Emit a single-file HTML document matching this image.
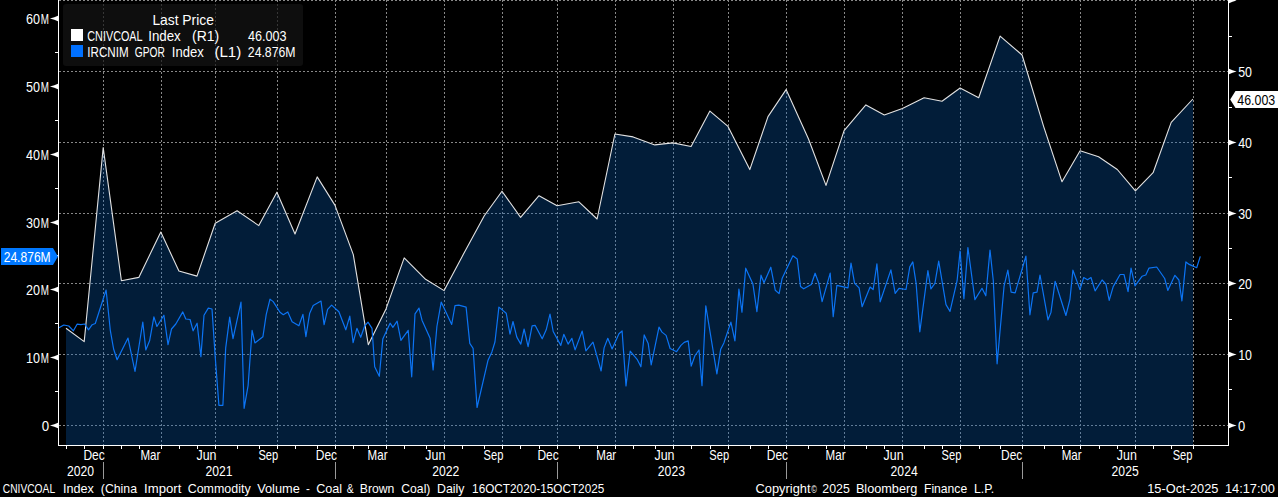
<!DOCTYPE html>
<html><head><meta charset="utf-8"><title>CNIVCOAL Index</title>
<style>html,body{margin:0;padding:0;background:#000;}body{width:1278px;height:497px;overflow:hidden;}svg{display:block;}text{font-family:"Liberation Sans",sans-serif;font-size:14.5px;fill:#fff;}</style>
</head><body>
<svg width="1278" height="497" viewBox="0 0 1278 497">
<rect x="0" y="0" width="1278" height="497" fill="#000"/>
<g stroke="#888888" stroke-width="1" stroke-dasharray="2 2" shape-rendering="crispEdges" fill="none">
<line x1="59.0" y1="0.5" x2="1228.5" y2="0.5"/>
<line x1="59.0" y1="71.5" x2="1228.5" y2="71.5"/>
<line x1="59.0" y1="142.5" x2="1228.5" y2="142.5"/>
<line x1="59.0" y1="213.5" x2="1228.5" y2="213.5"/>
<line x1="59.0" y1="283.5" x2="1228.5" y2="283.5"/>
<line x1="59.0" y1="354.5" x2="1228.5" y2="354.5"/>
<line x1="59.0" y1="425.5" x2="1228.5" y2="425.5"/>
<line x1="103.5" y1="0" x2="103.5" y2="445.5"/>
<line x1="161.5" y1="0" x2="161.5" y2="445.5"/>
<line x1="215.5" y1="0" x2="215.5" y2="445.5"/>
<line x1="277.5" y1="0" x2="277.5" y2="445.5"/>
<line x1="335.5" y1="0" x2="335.5" y2="445.5"/>
<line x1="386.5" y1="0" x2="386.5" y2="445.5"/>
<line x1="444.5" y1="0" x2="444.5" y2="445.5"/>
<line x1="502.5" y1="0" x2="502.5" y2="445.5"/>
<line x1="557.5" y1="0" x2="557.5" y2="445.5"/>
<line x1="615.5" y1="0" x2="615.5" y2="445.5"/>
<line x1="673.5" y1="0" x2="673.5" y2="445.5"/>
<line x1="728.5" y1="0" x2="728.5" y2="445.5"/>
<line x1="786.5" y1="0" x2="786.5" y2="445.5"/>
<line x1="844.5" y1="0" x2="844.5" y2="445.5"/>
<line x1="902.5" y1="0" x2="902.5" y2="445.5"/>
<line x1="960.5" y1="0" x2="960.5" y2="445.5"/>
<line x1="1022.5" y1="0" x2="1022.5" y2="445.5"/>
<line x1="1080.5" y1="0" x2="1080.5" y2="445.5"/>
<line x1="1135.5" y1="0" x2="1135.5" y2="445.5"/>
<line x1="1193.5" y1="0" x2="1193.5" y2="445.5"/>
</g>
<polygon points="66.0,445.5 66.0,328.2 84.2,341.6 103.2,147.6 121.4,280.7 138.8,277.4 160.8,232.1 178.9,271 197,276.1 215.2,223.3 237.1,210.8 258.8,225.6 276.9,192.2 295,234 317.2,176.9 334.9,205.1 353.3,254.6 368.3,344.7 386,308.9 404.2,257.9 425.6,279.3 444.1,290.6 462.2,256.4 484.3,215.8 502,191.2 520.6,217.4 539,195.7 557.1,205.7 578.9,201.8 597.1,219 614.9,134 633.1,136.9 654.8,144.9 672.8,142.9 691.1,146.5 709.9,111.1 728,126.4 749.8,169.6 768,116.6 786.1,89.6 808.4,138.7 826,185.4 844.1,130.7 865.9,104.9 884.3,115 902.4,108.5 924.1,97.7 942,101.3 960.1,88 978.7,97.7 1000.1,36.1 1022.1,55 1043.6,126.3 1062,181.8 1080.1,150.8 1098.6,156.7 1117.3,169.5 1135.4,190.8 1153.1,172.7 1171.2,122.4 1192.9,99 1193.0,99 1193.0,445.5" fill="rgba(8,95,190,0.3)"/>
<polyline points="66.0,328.2 84.2,341.6 103.2,147.6 121.4,280.7 138.8,277.4 160.8,232.1 178.9,271 197,276.1 215.2,223.3 237.1,210.8 258.8,225.6 276.9,192.2 295,234 317.2,176.9 334.9,205.1 353.3,254.6 368.3,344.7 386,308.9 404.2,257.9 425.6,279.3 444.1,290.6 462.2,256.4 484.3,215.8 502,191.2 520.6,217.4 539,195.7 557.1,205.7 578.9,201.8 597.1,219 614.9,134 633.1,136.9 654.8,144.9 672.8,142.9 691.1,146.5 709.9,111.1 728,126.4 749.8,169.6 768,116.6 786.1,89.6 808.4,138.7 826,185.4 844.1,130.7 865.9,104.9 884.3,115 902.4,108.5 924.1,97.7 942,101.3 960.1,88 978.7,97.7 1000.1,36.1 1022.1,55 1043.6,126.3 1062,181.8 1080.1,150.8 1098.6,156.7 1117.3,169.5 1135.4,190.8 1153.1,172.7 1171.2,122.4 1192.9,99" fill="none" stroke="#e2e2e2" stroke-width="1.1" stroke-linejoin="round"/>
<polyline points="59,327.8 63.8,325 68.8,326 73.4,330.8 77.1,324.2 80.9,324.7 84.7,324 88.5,329.8 92.2,324.7 95.3,323.5 106.1,290 110.3,330.3 113.6,349 117.1,359.7 128,338.1 135,371.5 142.8,322 145.8,349.9 149.6,340.8 153.9,316.9 156.9,326.5 163.9,315.2 168,344.6 171.5,329 175.8,324 182.8,311.9 185.8,319 190.1,319.5 193.1,330.8 197.1,323.2 200.9,356.7 204,315.2 208.3,308.1 212,309 215.1,355.4 218.9,405.3 222.9,405.3 225.7,347.9 229.7,317.2 233,338.6 241,302.1 244.1,408.3 248.1,385.6 252.1,330.3 254.9,342.9 262.9,336.8 266.2,314.7 270,299.1 273.2,301.6 280,312.2 283.3,314.7 287.8,311.9 292.1,321.7 298.9,325.8 302.9,314.4 305.9,336.6 309.7,313.2 313.2,305.6 321,301.1 324.1,324.7 327.6,309.4 331.6,305.1 338.9,311.7 345.8,329.8 349.8,316.2 353.1,342.6 356.9,328.3 360.7,337.3 364.7,326 368,322.2 372,328.3 374.7,366.8 379.3,376.3 382.8,339.1 390.1,323.2 392.9,327.3 397.1,321.2 400.9,340.3 408.2,330.3 411.7,376.8 415,313.9 419,308.1 422,320.2 430.1,338.3 433.1,370 436.9,326.5 441.2,302.1 451.7,324.5 455,305.6 458.8,305.1 466.1,307.1 469.8,343.4 473.1,348.4 477.05,407.5 488.05,360.2 491.9,351.9 494.95,342 498.9,307.1 506.2,313.2 510,334.1 513,321.5 516.8,337.1 520.8,344.1 524.1,329 528.1,346.6 532.1,325.8 535.1,325.3 542.2,338.8 546.2,329.8 550,314.2 553.2,331.5 560.8,345.4 563.8,334.3 568.1,344.1 571.9,338.3 575.1,349.9 582.2,331 585.9,350.9 593,342.1 601.1,371 604.1,347.9 607.8,338.3 612.1,348.9 618.95,333.8 622.1,331 626,385.9 630.15,351.2 637.1,359.3 640.9,366.8 644.2,334.9 648.2,343.4 651.2,364.8 659,327.1 662,332.1 666.1,335.4 670.1,348.5 676.6,351.7 680.9,345.4 684.2,342.4 688.2,340.9 691.2,366.1 695,355.5 699,350 702,385.7 705.8,305.9 716.9,373.9 720.7,349.2 723.9,342.9 730.9,322.1 734.9,340.9 738.9,289 741.95,312.1 745.7,268.2 752.9,284 756.9,311.7 761,275.2 764,282.8 770.8,267.2 775.3,290.3 779.1,293.6 782.1,278.5 792.9,255.8 797.2,258.9 800.5,286.5 803.7,288.8 811.3,284.5 815.1,273.2 818.8,283.3 822.1,301.6 830.2,273.2 833.2,316.7 836.9,285.3 848,287.8 851,263.1 854.6,283.3 859.1,287.8 862.1,306.7 870.1,287 873.15,289.5 876.9,263.9 880.15,301.8 890.9,269.9 895.2,293.3 899,288.3 906,289.5 909.8,266.9 912.8,261.9 916.1,283.3 919.8,331.8 927.9,270.7 930.9,288.8 934.9,283.3 938.7,261.1 946,304.6 950,311.4 957.1,280.7 960.1,251.1 963.9,298.8 967.9,247.5 974.9,299.6 982,288.3 985.8,295.8 990,250 993.3,280.7 997.1,363.8 1004.1,285.8 1007.85,270.2 1011.1,292.1 1015.15,292.85 1025.9,256.1 1029.9,314.8 1033.2,292.9 1037,292.1 1040,275 1048,319.8 1051,312.2 1055.1,281.3 1065.9,315.5 1069.9,299.7 1072.9,270.2 1080,289.6 1083.7,277.5 1087.5,279.8 1091,277.5 1095.1,290.9 1102.1,280 1105.9,284.1 1109.2,300.4 1113.2,286.6 1120.1,274.5 1124,274.5 1128.05,291.6 1131.05,268.2 1135,285.8 1142,276.3 1145.8,275 1148.9,268.2 1156.7,267 1164.7,278.5 1167.8,290.4 1174.9,275.3 1178.9,280 1181.9,300.9 1185.9,261.9 1189.2,264.4 1196.7,267.7 1200.3,256.4" fill="none" stroke="#0c74f4" stroke-width="1.2" stroke-linejoin="round"/>
<g stroke="#fff" stroke-width="1" shape-rendering="crispEdges">
<line x1="58.5" y1="0" x2="58.5" y2="446"/>
<line x1="1228.5" y1="0" x2="1228.5" y2="446"/>
<line x1="58" y1="445.5" x2="1229" y2="445.5"/>
<line x1="66.5" y1="446" x2="66.5" y2="449"/>
<line x1="84.5" y1="446" x2="84.5" y2="449"/>
<line x1="103.5" y1="446" x2="103.5" y2="449"/>
<line x1="121.5" y1="446" x2="121.5" y2="449"/>
<line x1="139.5" y1="446" x2="139.5" y2="449"/>
<line x1="161.5" y1="446" x2="161.5" y2="449"/>
<line x1="179.5" y1="446" x2="179.5" y2="449"/>
<line x1="197.5" y1="446" x2="197.5" y2="449"/>
<line x1="215.5" y1="446" x2="215.5" y2="449"/>
<line x1="237.5" y1="446" x2="237.5" y2="449"/>
<line x1="259.5" y1="446" x2="259.5" y2="449"/>
<line x1="277.5" y1="446" x2="277.5" y2="449"/>
<line x1="295.5" y1="446" x2="295.5" y2="449"/>
<line x1="317.5" y1="446" x2="317.5" y2="449"/>
<line x1="335.5" y1="446" x2="335.5" y2="449"/>
<line x1="353.5" y1="446" x2="353.5" y2="449"/>
<line x1="368.5" y1="446" x2="368.5" y2="449"/>
<line x1="386.5" y1="446" x2="386.5" y2="449"/>
<line x1="404.5" y1="446" x2="404.5" y2="449"/>
<line x1="426.5" y1="446" x2="426.5" y2="449"/>
<line x1="444.5" y1="446" x2="444.5" y2="449"/>
<line x1="462.5" y1="446" x2="462.5" y2="449"/>
<line x1="484.5" y1="446" x2="484.5" y2="449"/>
<line x1="502.5" y1="446" x2="502.5" y2="449"/>
<line x1="520.5" y1="446" x2="520.5" y2="449"/>
<line x1="539.5" y1="446" x2="539.5" y2="449"/>
<line x1="557.5" y1="446" x2="557.5" y2="449"/>
<line x1="579.5" y1="446" x2="579.5" y2="449"/>
<line x1="597.5" y1="446" x2="597.5" y2="449"/>
<line x1="615.5" y1="446" x2="615.5" y2="449"/>
<line x1="633.5" y1="446" x2="633.5" y2="449"/>
<line x1="655.5" y1="446" x2="655.5" y2="449"/>
<line x1="673.5" y1="446" x2="673.5" y2="449"/>
<line x1="691.5" y1="446" x2="691.5" y2="449"/>
<line x1="710.5" y1="446" x2="710.5" y2="449"/>
<line x1="728.5" y1="446" x2="728.5" y2="449"/>
<line x1="750.5" y1="446" x2="750.5" y2="449"/>
<line x1="768.5" y1="446" x2="768.5" y2="449"/>
<line x1="786.5" y1="446" x2="786.5" y2="449"/>
<line x1="808.5" y1="446" x2="808.5" y2="449"/>
<line x1="826.5" y1="446" x2="826.5" y2="449"/>
<line x1="844.5" y1="446" x2="844.5" y2="449"/>
<line x1="866.5" y1="446" x2="866.5" y2="449"/>
<line x1="884.5" y1="446" x2="884.5" y2="449"/>
<line x1="902.5" y1="446" x2="902.5" y2="449"/>
<line x1="924.5" y1="446" x2="924.5" y2="449"/>
<line x1="942.5" y1="446" x2="942.5" y2="449"/>
<line x1="960.5" y1="446" x2="960.5" y2="449"/>
<line x1="979.5" y1="446" x2="979.5" y2="449"/>
<line x1="1000.5" y1="446" x2="1000.5" y2="449"/>
<line x1="1022.5" y1="446" x2="1022.5" y2="449"/>
<line x1="1044.5" y1="446" x2="1044.5" y2="449"/>
<line x1="1062.5" y1="446" x2="1062.5" y2="449"/>
<line x1="1080.5" y1="446" x2="1080.5" y2="449"/>
<line x1="1099.5" y1="446" x2="1099.5" y2="449"/>
<line x1="1117.5" y1="446" x2="1117.5" y2="449"/>
<line x1="1135.5" y1="446" x2="1135.5" y2="449"/>
<line x1="1153.5" y1="446" x2="1153.5" y2="449"/>
<line x1="1171.5" y1="446" x2="1171.5" y2="449"/>
<line x1="1193.5" y1="446" x2="1193.5" y2="449"/>
<line x1="55" y1="52.5" x2="58" y2="52.5"/>
<line x1="55" y1="120.5" x2="58" y2="120.5"/>
<line x1="55" y1="188.5" x2="58" y2="188.5"/>
<line x1="55" y1="255.5" x2="58" y2="255.5"/>
<line x1="55" y1="323.5" x2="58" y2="323.5"/>
<line x1="55" y1="391.5" x2="58" y2="391.5"/>
<line x1="1229" y1="36.5" x2="1232" y2="36.5"/>
<line x1="1229" y1="107.5" x2="1232" y2="107.5"/>
<line x1="1229" y1="177.5" x2="1232" y2="177.5"/>
<line x1="1229" y1="248.5" x2="1232" y2="248.5"/>
<line x1="1229" y1="319.5" x2="1232" y2="319.5"/>
<line x1="1229" y1="389.5" x2="1232" y2="389.5"/>
</g>
<path d="M49.9,18.5 Q54.5,17.4 58.5,15.5 L58.5,21.5 Q54.5,19.6 49.9,18.5 Z" fill="#fff"/>
<text x="25.90" y="23.5" textLength="14.00" lengthAdjust="spacingAndGlyphs">60</text>
<text x="40.80" y="23.5" textLength="8.20" lengthAdjust="spacingAndGlyphs">M</text>
<path d="M49.9,86.5 Q54.5,85.4 58.5,83.5 L58.5,89.5 Q54.5,87.6 49.9,86.5 Z" fill="#fff"/>
<text x="25.90" y="91.5" textLength="14.00" lengthAdjust="spacingAndGlyphs">50</text>
<text x="40.80" y="91.5" textLength="8.20" lengthAdjust="spacingAndGlyphs">M</text>
<path d="M49.9,154.5 Q54.5,153.4 58.5,151.5 L58.5,157.5 Q54.5,155.6 49.9,154.5 Z" fill="#fff"/>
<text x="25.90" y="159.5" textLength="14.00" lengthAdjust="spacingAndGlyphs">40</text>
<text x="40.80" y="159.5" textLength="8.20" lengthAdjust="spacingAndGlyphs">M</text>
<path d="M49.9,222.5 Q54.5,221.4 58.5,219.5 L58.5,225.5 Q54.5,223.6 49.9,222.5 Z" fill="#fff"/>
<text x="25.90" y="227.5" textLength="14.00" lengthAdjust="spacingAndGlyphs">30</text>
<text x="40.80" y="227.5" textLength="8.20" lengthAdjust="spacingAndGlyphs">M</text>
<path d="M49.9,289.5 Q54.5,288.4 58.5,286.5 L58.5,292.5 Q54.5,290.6 49.9,289.5 Z" fill="#fff"/>
<text x="25.90" y="294.5" textLength="14.00" lengthAdjust="spacingAndGlyphs">20</text>
<text x="40.80" y="294.5" textLength="8.20" lengthAdjust="spacingAndGlyphs">M</text>
<path d="M49.9,357.5 Q54.5,356.4 58.5,354.5 L58.5,360.5 Q54.5,358.6 49.9,357.5 Z" fill="#fff"/>
<text x="25.90" y="362.5" textLength="14.00" lengthAdjust="spacingAndGlyphs">10</text>
<text x="40.80" y="362.5" textLength="8.20" lengthAdjust="spacingAndGlyphs">M</text>
<path d="M49.9,425.5 Q54.5,424.4 58.5,422.5 L58.5,428.5 Q54.5,426.6 49.9,425.5 Z" fill="#fff"/>
<text x="41.80" y="430.5" textLength="7.40" lengthAdjust="spacingAndGlyphs">0</text>
<path d="M1236.6,0.5 Q1232.5,-0.6000000000000001 1228.5,-2.5 L1228.5,3.5 Q1232.5,1.6 1236.6,0.5 Z" fill="#fff"/>
<path d="M1236.6,71.5 Q1232.5,70.4 1228.5,68.5 L1228.5,74.5 Q1232.5,72.6 1236.6,71.5 Z" fill="#fff"/>
<text x="1238.20" y="76.5" textLength="13.80" lengthAdjust="spacingAndGlyphs">50</text>
<path d="M1236.6,142.5 Q1232.5,141.4 1228.5,139.5 L1228.5,145.5 Q1232.5,143.6 1236.6,142.5 Z" fill="#fff"/>
<text x="1238.20" y="147.5" textLength="13.80" lengthAdjust="spacingAndGlyphs">40</text>
<path d="M1236.6,213.5 Q1232.5,212.4 1228.5,210.5 L1228.5,216.5 Q1232.5,214.6 1236.6,213.5 Z" fill="#fff"/>
<text x="1238.20" y="218.5" textLength="13.80" lengthAdjust="spacingAndGlyphs">30</text>
<path d="M1236.6,283.5 Q1232.5,282.4 1228.5,280.5 L1228.5,286.5 Q1232.5,284.6 1236.6,283.5 Z" fill="#fff"/>
<text x="1238.20" y="288.5" textLength="13.80" lengthAdjust="spacingAndGlyphs">20</text>
<path d="M1236.6,354.5 Q1232.5,353.4 1228.5,351.5 L1228.5,357.5 Q1232.5,355.6 1236.6,354.5 Z" fill="#fff"/>
<text x="1238.20" y="359.5" textLength="13.80" lengthAdjust="spacingAndGlyphs">10</text>
<path d="M1236.6,425.5 Q1232.5,424.4 1228.5,422.5 L1228.5,428.5 Q1232.5,426.6 1236.6,425.5 Z" fill="#fff"/>
<text x="1237.90" y="430.5" textLength="7.20" lengthAdjust="spacingAndGlyphs">0</text>
<text x="83.40" y="459.5" textLength="21.30" lengthAdjust="spacingAndGlyphs">Dec</text>
<text x="140.45" y="459.5" textLength="19.90" lengthAdjust="spacingAndGlyphs">Mar</text>
<text x="196.50" y="459.5" textLength="20.00" lengthAdjust="spacingAndGlyphs">Jun</text>
<text x="258.40" y="459.5" textLength="19.80" lengthAdjust="spacingAndGlyphs">Sep</text>
<text x="315.75" y="459.5" textLength="21.30" lengthAdjust="spacingAndGlyphs">Dec</text>
<text x="367.60" y="459.5" textLength="19.90" lengthAdjust="spacingAndGlyphs">Mar</text>
<text x="425.35" y="459.5" textLength="20.00" lengthAdjust="spacingAndGlyphs">Jun</text>
<text x="483.60" y="459.5" textLength="19.80" lengthAdjust="spacingAndGlyphs">Sep</text>
<text x="537.40" y="459.5" textLength="21.30" lengthAdjust="spacingAndGlyphs">Dec</text>
<text x="596.30" y="459.5" textLength="19.90" lengthAdjust="spacingAndGlyphs">Mar</text>
<text x="654.50" y="459.5" textLength="20.00" lengthAdjust="spacingAndGlyphs">Jun</text>
<text x="709.35" y="459.5" textLength="19.80" lengthAdjust="spacingAndGlyphs">Sep</text>
<text x="766.80" y="459.5" textLength="21.30" lengthAdjust="spacingAndGlyphs">Dec</text>
<text x="825.60" y="459.5" textLength="19.90" lengthAdjust="spacingAndGlyphs">Mar</text>
<text x="883.60" y="459.5" textLength="20.00" lengthAdjust="spacingAndGlyphs">Jun</text>
<text x="941.60" y="459.5" textLength="19.80" lengthAdjust="spacingAndGlyphs">Sep</text>
<text x="1001.05" y="459.5" textLength="21.30" lengthAdjust="spacingAndGlyphs">Dec</text>
<text x="1061.65" y="459.5" textLength="19.90" lengthAdjust="spacingAndGlyphs">Mar</text>
<text x="1116.80" y="459.5" textLength="20.00" lengthAdjust="spacingAndGlyphs">Jun</text>
<text x="1172.70" y="459.5" textLength="19.80" lengthAdjust="spacingAndGlyphs">Sep</text>
<text x="66.95" y="475.5" textLength="27.10" lengthAdjust="spacingAndGlyphs">2020</text>
<text x="205.40" y="475.5" textLength="27.10" lengthAdjust="spacingAndGlyphs">2021</text>
<text x="432.30" y="475.5" textLength="27.10" lengthAdjust="spacingAndGlyphs">2022</text>
<text x="657.85" y="475.5" textLength="27.10" lengthAdjust="spacingAndGlyphs">2023</text>
<text x="890.60" y="475.5" textLength="27.10" lengthAdjust="spacingAndGlyphs">2024</text>
<text x="1111.60" y="475.5" textLength="27.10" lengthAdjust="spacingAndGlyphs">2025</text>
<g stroke="#999" stroke-width="1" shape-rendering="crispEdges">
<line x1="103.5" y1="462" x2="103.5" y2="479"/>
<line x1="335.5" y1="462" x2="335.5" y2="479"/>
<line x1="557.5" y1="462" x2="557.5" y2="479"/>
<line x1="786.5" y1="462" x2="786.5" y2="479"/>
<line x1="1022.5" y1="462" x2="1022.5" y2="479"/>
</g>
<text x="2.75" y="492.9" textLength="52.35" lengthAdjust="spacingAndGlyphs" style="font-size:13.0px">CNIVCOAL</text>
<text x="63.00" y="492.9" textLength="30.90" lengthAdjust="spacingAndGlyphs" style="font-size:13.0px">Index</text>
<text x="100.80" y="492.9" textLength="36.19" lengthAdjust="spacingAndGlyphs" style="font-size:13.0px">(China</text>
<text x="144.10" y="492.9" textLength="37.20" lengthAdjust="spacingAndGlyphs" style="font-size:13.0px">Import</text>
<text x="187.70" y="492.9" textLength="63.00" lengthAdjust="spacingAndGlyphs" style="font-size:13.0px">Commodity</text>
<text x="257.20" y="492.9" textLength="42.61" lengthAdjust="spacingAndGlyphs" style="font-size:13.0px">Volume</text>
<text x="306.10" y="492.9" textLength="3.90" lengthAdjust="spacingAndGlyphs" style="font-size:13.0px">-</text>
<text x="316.20" y="492.9" textLength="26.00" lengthAdjust="spacingAndGlyphs" style="font-size:13.0px">Coal</text>
<text x="346.70" y="492.9" textLength="6.90" lengthAdjust="spacingAndGlyphs" style="font-size:13.0px">&amp;</text>
<text x="359.80" y="492.9" textLength="34.59" lengthAdjust="spacingAndGlyphs" style="font-size:13.0px">Brown</text>
<text x="401.30" y="492.9" textLength="29.10" lengthAdjust="spacingAndGlyphs" style="font-size:13.0px">Coal)</text>
<text x="437.10" y="492.9" textLength="27.40" lengthAdjust="spacingAndGlyphs" style="font-size:13.0px">Daily</text>
<text x="472.10" y="492.9" textLength="132.20" lengthAdjust="spacingAndGlyphs" style="font-size:13.0px">16OCT2020-15OCT2025</text>
<text x="755.60" y="492.9" textLength="54.90" lengthAdjust="spacingAndGlyphs" style="font-size:13.0px">Copyright</text>
<text x="822.30" y="492.9" textLength="27.50" lengthAdjust="spacingAndGlyphs" style="font-size:13.0px">2025</text>
<text x="855.90" y="492.9" textLength="61.40" lengthAdjust="spacingAndGlyphs" style="font-size:13.0px">Bloomberg</text>
<text x="924.00" y="492.9" textLength="43.20" lengthAdjust="spacingAndGlyphs" style="font-size:13.0px">Finance</text>
<text x="973.90" y="492.9" textLength="20.30" lengthAdjust="spacingAndGlyphs" style="font-size:13.0px">L.P.</text>
<text x="1147.20" y="492.9" textLength="71.20" lengthAdjust="spacingAndGlyphs" style="font-size:13.0px">15-Oct-2025</text>
<text x="1224.90" y="492.9" textLength="49.89" lengthAdjust="spacingAndGlyphs" style="font-size:13.0px">14:17:00</text>
<text x="811.30" y="492.6" textLength="5.60" lengthAdjust="spacingAndGlyphs" style="font-size:10.2px">©</text>
<rect x="63" y="4" width="240" height="62" rx="3" ry="3" fill="rgba(20,20,20,0.7)"/>
<text x="152.40" y="24.7" textLength="61.50" lengthAdjust="spacingAndGlyphs">Last Price</text>
<rect x="71" y="29" width="12" height="12" fill="#fff"/>
<rect x="71" y="45" width="12" height="12" fill="#0070ff"/>
<text x="87.30" y="40.9" textLength="55.30" lengthAdjust="spacingAndGlyphs">CNIVCOAL</text>
<text x="148.20" y="40.9" textLength="32.60" lengthAdjust="spacingAndGlyphs">Index</text>
<text x="192.00" y="40.9" textLength="27.21" lengthAdjust="spacingAndGlyphs">(R1)</text>
<text x="247.90" y="40.9" textLength="38.60" lengthAdjust="spacingAndGlyphs">46.003</text>
<text x="87.30" y="56.8" textLength="41.30" lengthAdjust="spacingAndGlyphs">IRCNIM</text>
<text x="134.80" y="56.8" textLength="30.10" lengthAdjust="spacingAndGlyphs">GPOR</text>
<text x="171.80" y="56.8" textLength="31.90" lengthAdjust="spacingAndGlyphs">Index</text>
<text x="214.40" y="56.8" textLength="26.91" lengthAdjust="spacingAndGlyphs">(L1)</text>
<text x="247.80" y="56.8" textLength="47.80" lengthAdjust="spacingAndGlyphs">24.876M</text>
<polygon points="1,248 53,248 58,256.5 53,265 1,265" fill="#0078ff"/>
<text x="3.70" y="262.1" textLength="47.00" lengthAdjust="spacingAndGlyphs">24.876M</text>
<polygon points="1230.2,99.5 1235.5,91 1278,91 1278,108 1235.5,108" fill="#fff"/>
<text x="1237.30" y="104.9" textLength="37.90" lengthAdjust="spacingAndGlyphs" style="fill:#000">46.003</text>
</svg></body></html>
